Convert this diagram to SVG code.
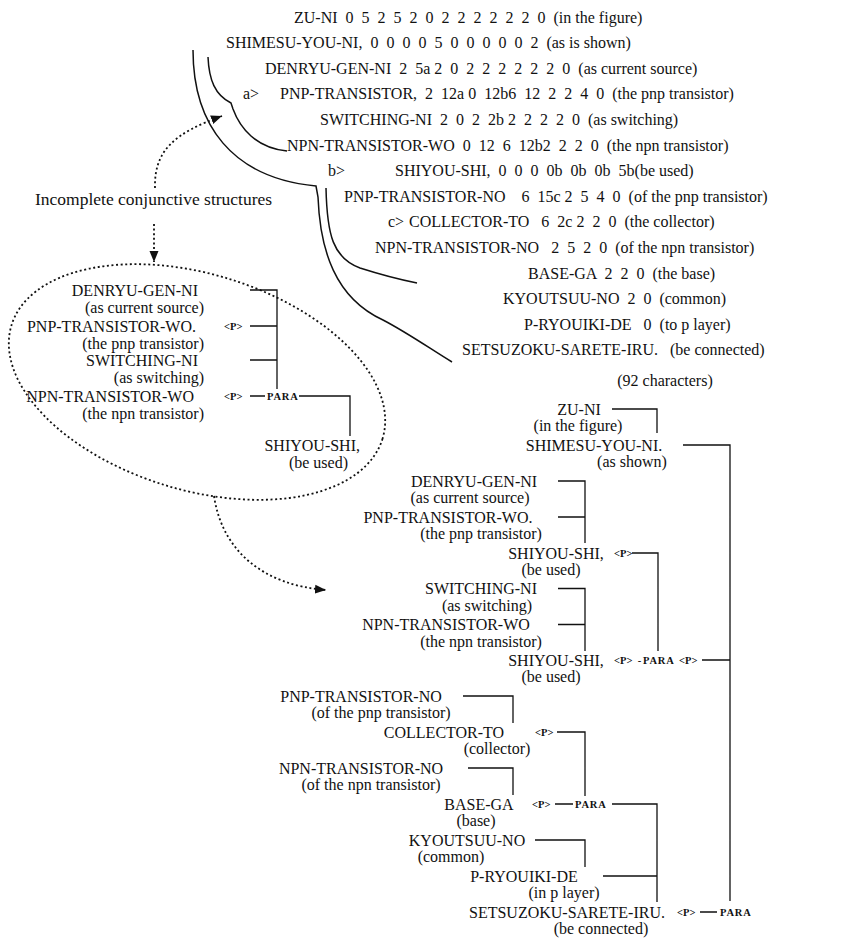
<svg xmlns="http://www.w3.org/2000/svg" width="857" height="938" viewBox="0 0 857 938" xml:space="preserve">
<style>
text{font-family:"Liberation Serif","Times New Roman",serif;fill:#111;white-space:pre}
.t{font-size:16px}
.cap{font-size:17.5px}
.s{font-size:10.5px;font-weight:bold}
.pa{font-size:10.5px;font-weight:bold;letter-spacing:0.8px}
.e{text-anchor:end}
.m{text-anchor:middle}
.ln{fill:none;stroke:#111;stroke-width:1.3}
.cv{fill:none;stroke:#111;stroke-width:1.5}
.dt{fill:none;stroke:#111;stroke-width:1.8;stroke-dasharray:2 2.6}
</style>
<defs>
<marker id="ah" markerUnits="userSpaceOnUse" markerWidth="12" markerHeight="10" refX="11" refY="5" orient="auto"><path d="M0,0.5 L11,5 L0,9.5 z" fill="#111"/></marker>
</defs>
<rect width="857" height="938" fill="#fff"/>

<g id="table" class="t">
<text x="294" y="22.5">ZU-NI  0  5  2  5  2  0  2  2  2  2  2  2  0  (in the figure)</text>
<text x="226" y="48.1">SHIMESU-YOU-NI,  0  0  0  0  5  0  0  0  0  0  2  (as is shown)</text>
<text x="265" y="73.7">DENRYU-GEN-NI  2  5a 2  0  2  2  2  2  2  2  0  (as current source)</text>
<text x="243" y="99.3">a&gt;</text>
<text x="280" y="99.3">PNP-TRANSISTOR,  2  12a 0  12b6  12  2  2  4  0  (the pnp transistor)</text>
<text x="320" y="124.9">SWITCHING-NI  2  0  2  2b 2  2  2  2  0  (as switching)</text>
<text x="287" y="150.5">NPN-TRANSISTOR-WO  0  12  6  12b2  2  2  0  (the npn transistor)</text>
<text x="328" y="176.1">b&gt;</text>
<text x="395" y="176.1">SHIYOU-SHI,  0  0  0  0b  0b  0b  5b(be used)</text>
<text x="344" y="201.7">PNP-TRANSISTOR-NO    6  15c 2  5  4  0  (of the pnp transistor)</text>
<text x="388" y="227.3">c&gt;</text>
<text x="409" y="227.3">COLLECTOR-TO   6  2c 2  2  0  (the collector)</text>
<text x="375" y="252.9">NPN-TRANSISTOR-NO   2  5  2  0  (of the npn transistor)</text>
<text x="528" y="278.5">BASE-GA  2  2  0  (the base)</text>
<text x="503" y="304.1">KYOUTSUU-NO  2  0  (common)</text>
<text x="524" y="329.7">P-RYOUIKI-DE   0  (to p layer)</text>
<text x="462" y="355.3">SETSUZOKU-SARETE-IRU.   (be connected)</text>
<text x="665" y="385.5" class="m">(92 characters)</text>
</g>

<g id="connectors">
<path class="cv" d="M193,50 C193,125 232,178 316,186 L318,197 C320,250 335,298 383,320 C408,333 432,350 452,362"/>
<path class="cv" d="M208,57 C209,80 215,95 231,103 L233,109 C240,128 256,148 287,151"/>
<path class="cv" d="M326,188 C327,235 333,258 360,268 C385,276 402,280 417,283"/>
<path class="dt" d="M155,188 C154,150 175,133 222,116" marker-end="url(#ah)"/>
<path class="dt" d="M154,224 L154,262" marker-end="url(#ah)"/>
<ellipse class="dt" cx="197" cy="382" rx="194" ry="108" transform="rotate(17 197 382)"/>
<path class="dt" d="M214,496 C222,550 262,585 326,590" marker-end="url(#ah)"/>
<path class="ln" d="M250,290 H277 V389 M250,326 H277 M250,360 H277 M250,396 H265 M299,396 H350 V436"/>
<path class="ln" d="M612,409 H657 V433 M683,445 H730 V901 M558,481 H585 V543 M558,517 H585 M632,553 H658 V651 M558,588.5 H585 V651 M558,624.5 H585 M702,660 H730 M463,696 H513 V723 M557,732 H585 V796 M468,768 H513 V795 M555,804 H573 M612,804 H657 V902 M535,840 H585 V867 M603,876 H657 M700,912 H717"/>
</g>

<text x="35" y="205" class="cap">Incomplete conjunctive structures</text>

<g id="left-tree" class="t">
<g id="l-denryu"><text x="198" y="295.5" class="e">DENRYU-GEN-NI</text><text x="204" y="312.5" class="e">(as current source)</text></g>
<g id="l-pnp"><text x="196" y="331.5" class="e">PNP-TRANSISTOR-WO.</text><text x="204" y="348.5" class="e">(the pnp transistor)</text><text x="224" y="330" class="s">&lt;P&gt;</text></g>
<g id="l-switching"><text x="198" y="365.5" class="e">SWITCHING-NI</text><text x="204" y="382.5" class="e">(as switching)</text></g>
<g id="l-npn"><text x="194" y="401.5" class="e">NPN-TRANSISTOR-WO</text><text x="204" y="418.5" class="e">(the npn transistor)</text><text x="224" y="400" class="s">&lt;P&gt;</text><text x="267" y="400" class="pa">PARA</text></g>
<g id="l-shiyou"><text x="360" y="450.5" class="e">SHIYOU-SHI,</text><text x="348" y="467.5" class="e">(be used)</text></g>
</g>

<g id="tree" class="t">
<g id="n-zuni"><text x="579" y="414.5" class="m">ZU-NI</text><text x="578" y="431.3" class="m">(in the figure)</text></g>
<g id="n-shimesu"><text x="594" y="450.5" class="m">SHIMESU-YOU-NI.</text><text x="632" y="467.3" class="m">(as shown)</text></g>
<g id="n-denryu"><text x="474" y="486.5" class="m">DENRYU-GEN-NI</text><text x="470" y="503.3" class="m">(as current source)</text></g>
<g id="n-pnpwo"><text x="448" y="522.5" class="m">PNP-TRANSISTOR-WO.</text><text x="481" y="539.3" class="m">(the pnp transistor)</text></g>
<g id="n-shiyou1"><text x="556" y="558.5" class="m">SHIYOU-SHI,</text><text x="551" y="575.3" class="m">(be used)</text><text x="614" y="557" class="s">&lt;P&gt;</text></g>
<g id="n-switching"><text x="481" y="594" class="m">SWITCHING-NI</text><text x="487" y="610.8" class="m">(as switching)</text></g>
<g id="n-npnwo"><text x="446" y="630" class="m">NPN-TRANSISTOR-WO</text><text x="481" y="646.8" class="m">(the npn transistor)</text></g>
<g id="n-shiyou2"><text x="556" y="665.5" class="m">SHIYOU-SHI,</text><text x="551" y="682.3" class="m">(be used)</text><text x="614" y="664" class="s">&lt;P&gt;  -</text><text x="643" y="664" class="pa">PARA</text><text x="679" y="664" class="s">&lt;P&gt;</text></g>
<g id="n-pnpno"><text x="361" y="701.5" class="m">PNP-TRANSISTOR-NO</text><text x="381" y="718.3" class="m">(of the pnp transistor)</text></g>
<g id="n-collector"><text x="444" y="737.5" class="m">COLLECTOR-TO</text><text x="497" y="754.3" class="m">(collector)</text><text x="535" y="736" class="s">&lt;P&gt;</text></g>
<g id="n-npnno"><text x="361" y="773.5" class="m">NPN-TRANSISTOR-NO</text><text x="371" y="790.3" class="m">(of the npn transistor)</text></g>
<g id="n-base"><text x="479" y="809.5" class="m">BASE-GA</text><text x="476" y="826.3" class="m">(base)</text><text x="532" y="808" class="s">&lt;P&gt;</text><text x="575" y="808" class="pa">PARA</text></g>
<g id="n-kyoutsuu"><text x="467" y="845.5" class="m">KYOUTSUU-NO</text><text x="451" y="862.3" class="m">(common)</text></g>
<g id="n-pryouiki"><text x="524" y="881.5" class="m">P-RYOUIKI-DE</text><text x="564" y="898.3" class="m">(in p layer)</text></g>
<g id="n-setsuzoku"><text x="567" y="917.5" class="m">SETSUZOKU-SARETE-IRU.</text><text x="601" y="934.3" class="m">(be connected)</text><text x="677" y="916" class="s">&lt;P&gt;</text><text x="720" y="916" class="pa">PARA</text></g>
</g>
</svg>
